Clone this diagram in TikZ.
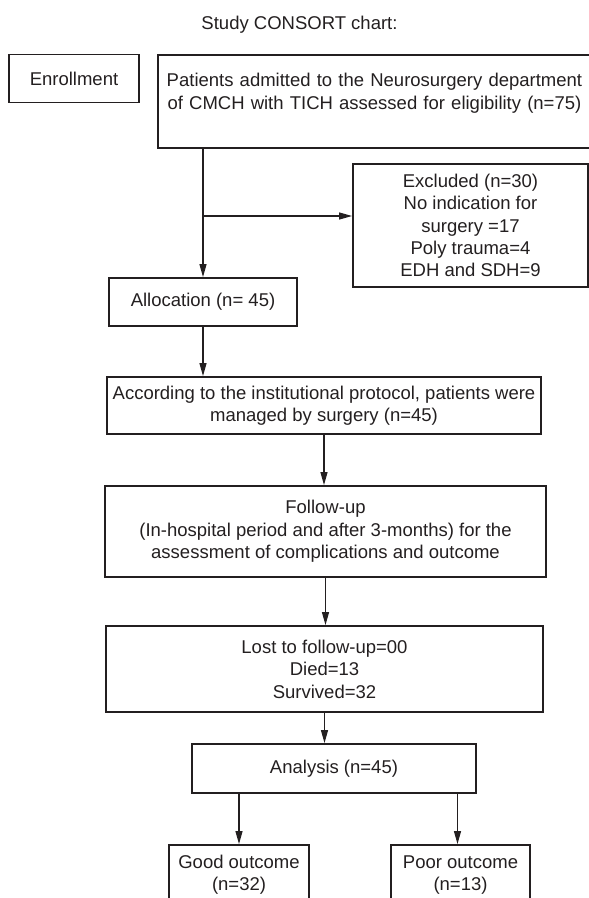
\documentclass[tikz,border=0pt]{standalone}
\usepackage{fontspec}
\setmainfont{Liberation Sans}
\usepackage{xcolor}
\usetikzlibrary{arrows.meta}
\definecolor{Ink}{HTML}{231F20}

\begin{document}
\begin{tikzpicture}[x=1pt,y=-1pt,
  cbox/.style={draw=Ink,line width=1.9pt,inner sep=0pt,align=center,
    font=\fontsize{18.5}{22.4}\selectfont},
  arr/.style={draw=Ink,line width=1.2pt,-{Triangle[length=13pt,width=7pt]}},
  every node/.style={text=Ink}]
  \useasboundingbox (0,0) rectangle (589,898);
  \clip (0,0) rectangle (589,898);

  % title and enrollment row
  \node[anchor=base,font=\fontsize{18.5}{22.4}\selectfont] (title) at (299.5,29.3)
    {Study CONSORT chart:};
  \node[cbox,minimum width=130pt,minimum height=48pt] (enroll) at (74,78.5) {Enrollment};
  \node[cbox,anchor=north west,text width=433pt,text height=32pt,text depth=61pt]
    (patients) at (157,54) {Patients admitted to the Neurosurgery department\\
    of CMCH with TICH assessed for eligibility (n=75)};

  % main column
  \node[cbox,minimum width=235pt,minimum height=123pt] (excl) at (470.5,225.5)
    {Excluded (n=30)\\No indication for\\surgery =17\\Poly trauma=4\\EDH and SDH=9};
  \node[cbox,minimum width=188pt,minimum height=48pt] (alloc) at (203,302)
    {Allocation (n= 45)};
  \node[cbox,minimum width=434pt,minimum height=57pt] (protocol) at (324,405.5)
    {According to the institutional protocol, patients were\\managed by surgery (n=45)};
  \node[cbox,minimum width=441pt,minimum height=91pt] (follow) at (325.5,531.5)
    {Follow-up\\(In-hospital period and after 3-months) for the\\
    assessment of complications and outcome};
  \node[cbox,minimum width=437pt,minimum height=86pt] (lost) at (324.5,669)
    {Lost to follow-up=00\\Died=13\\Survived=32};
  \node[cbox,minimum width=284pt,minimum height=49pt] (analysis) at (334,768.5)
    {Analysis (n=45)};
  \node[cbox,minimum width=140pt,minimum height=60pt] (good) at (239,875)
    {Good outcome\\(n=32)};
  \node[cbox,minimum width=139pt,minimum height=60pt] (poor) at (460.5,875)
    {Poor outcome\\(n=13)};

  % connectors
  \coordinate (split) at (alloc.north |- 0,216);
  \draw[arr] (alloc.north |- patients.south) -- (alloc.north);
  \draw[arr] (split) -- (split -| excl.west);
  \draw[arr] (alloc.south) -- (alloc.south |- protocol.north);
  \draw[arr] (protocol.south) -- (protocol.south |- follow.north);
  \draw[arr] (follow.south) -- (follow.south |- lost.north);
  \draw[arr] (lost.south) -- (lost.south |- analysis.north);
  \draw[arr] (good.north |- analysis.south) -- (good.north);
  \draw[arr] ([xshift=-3pt]poor.north |- analysis.south) -- ([xshift=-3pt]poor.north);
\end{tikzpicture}
\end{document}
